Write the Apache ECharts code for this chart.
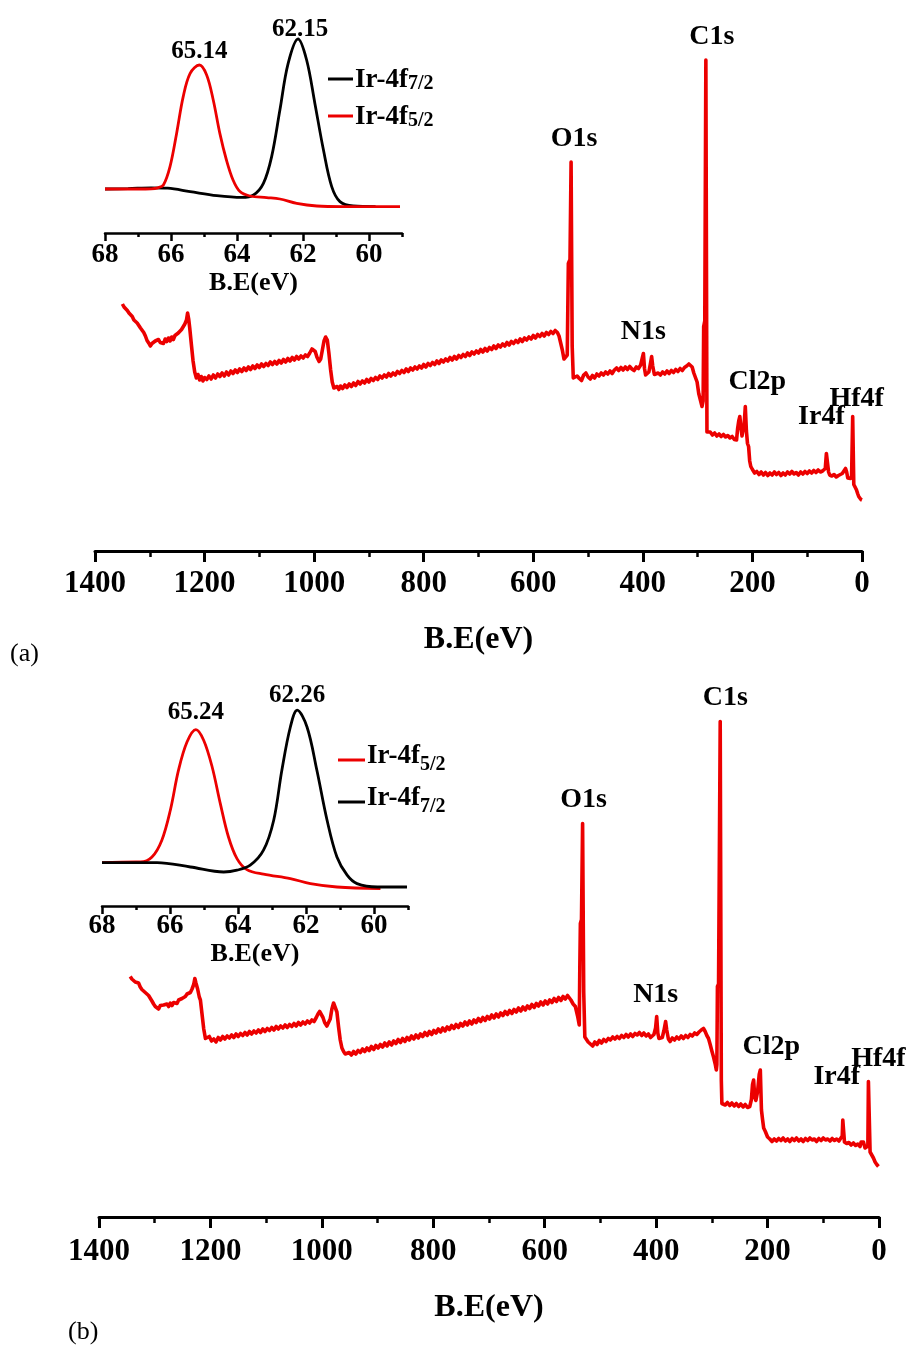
<!DOCTYPE html>
<html>
<head>
<meta charset="utf-8">
<script src="https://cdn.jsdelivr.net/npm/echarts@6/dist/echarts.min.js"></script>
<style>
  html, body { margin: 0; padding: 0; background: #ffffff; }
  #chart { width: 917px; height: 1370px; }
</style>
</head>
<body>
<div id="chart"></div>
<script>
// ---------- Survey spectrum (a): [binding energy eV, intensity a.u.] ----------
const surveyA = [
  [1350,49.4],[1347,48.8],[1344,49.0],[1341,48.1],[1338,47.6],[1335,47.9],[1332,46.9],[1329,46.2],[1326,46.5],[1323,45.6],
  [1320,45.1],[1317,44.6],[1314,44.9],[1311,43.7],[1308,43.0],[1305,42.1],[1302,41.6],[1299,41.0],[1296,41.5],[1293,41.2],
  [1290,42.0],[1287,41.6],[1284,42.3],[1281,41.7],[1278,42.1],[1275,41.5],[1272,42.4],[1269,41.9],[1266,42.6],[1263,42.0],
  [1260,42.8],[1257,42.3],[1254,43.1],[1251,42.7],[1248,43.6],[1245,43.2],[1242,44.3],[1239,43.9],[1236,45.4],[1233,46.2],
  [1231,47.6],[1229,46.4],[1227,44.5],[1224,41.2],[1221,38.0],[1218,35.8],[1215,34.6],[1212,35.3],[1209,34.2],[1206,34.9],
  [1203,34.0],[1200,34.7],[1196,34.3],[1192,35.0],[1188,34.4],[1184,35.2],[1180,34.6],[1176,35.4],[1172,34.9],[1168,35.6],
  [1164,35.0],[1160,35.8],[1156,35.2],[1152,36.0],[1148,35.5],[1144,36.2],[1140,35.7],[1136,36.4],[1132,35.9],[1128,36.6],
  [1124,36.1],[1120,36.8],[1116,36.3],[1112,37.0],[1108,36.5],[1104,37.2],[1100,36.7],[1096,37.4],[1092,36.9],[1088,37.5],
  [1084,37.1],[1080,37.8],[1076,37.3],[1072,37.9],[1068,37.4],[1064,38.1],[1060,37.6],[1056,38.3],[1052,37.8],[1048,38.5],
  [1044,38.0],[1040,38.7],[1036,38.2],[1032,38.9],[1028,38.4],[1024,39.0],[1020,38.6],[1016,39.2],[1012,38.9],[1008,39.6],
  [1004,40.4],[1001,40.6],[998,39.9],[995,38.8],[991,37.9],[988,38.4],[985,40.2],[982,42.0],[979,42.8],[976,42.2],
  [973,39.5],[970,36.3],[967,33.8],[964,32.6],[961,32.2],[958,32.9],[955,32.3],[952,33.0],[948,32.5],[944,33.2],
  [940,32.7],[936,33.4],[932,32.9],[928,33.6],[924,33.1],[920,33.9],[916,33.4],[912,34.0],[908,33.6],[904,34.3],
  [900,33.8],[896,34.5],[892,34.1],[888,34.7],[884,34.3],[880,35.0],[876,34.6],[872,35.2],[868,34.8],[864,35.5],
  [860,35.0],[856,35.6],[852,35.2],[848,35.9],[844,35.5],[840,36.1],[836,35.7],[832,36.4],[828,35.9],[824,36.6],
  [820,36.2],[816,36.8],[812,36.4],[808,37.0],[804,36.6],[800,37.3],[796,36.8],[792,37.5],[788,37.1],[784,37.7],
  [780,37.3],[776,38.0],[772,37.5],[768,38.2],[764,37.8],[760,38.4],[756,38.0],[752,38.7],[748,38.2],[744,38.9],
  [740,38.4],[736,39.1],[732,38.7],[728,39.3],[724,38.9],[720,39.6],[716,39.1],[712,39.8],[708,39.4],[704,40.0],
  [700,39.6],[696,40.3],[692,39.8],[688,40.5],[684,40.0],[680,40.7],[676,40.3],[672,41.0],[668,40.5],[664,41.2],
  [660,40.8],[656,41.4],[652,41.0],[648,41.7],[644,41.2],[640,41.9],[636,41.5],[632,42.1],[628,41.7],[624,42.4],
  [620,41.9],[616,42.6],[612,42.2],[608,42.8],[604,42.4],[600,43.1],[596,42.6],[592,43.3],[588,42.9],[584,43.5],
  [580,43.0],[576,43.7],[572,43.3],[568,43.9],[564,43.5],[560,44.1],[556,43.7],[553,43.0],[550,41.6],[547,40.2],
  [544,38.4],[541,38.0],[538,39.2],[536,57.5],[533,58.3],[531,77.8],[529,41.0],[527,34.6],[524,34.3],[520,35.0],
  [516,34.5],[512,34.1],[508,35.2],[504,35.6],[500,34.8],[496,34.4],[492,35.1],[488,34.6],[484,35.4],[480,35.0],
  [476,35.6],[472,35.2],[468,35.8],[464,35.4],[460,36.0],[456,35.5],[452,36.2],[448,36.6],[444,36.1],[440,36.7],
  [436,36.2],[432,36.8],[428,36.3],[424,36.9],[420,36.4],[416,36.1],[412,36.8],[408,36.5],[404,37.2],[401,38.6],
  [399,39.5],[397,36.5],[395,35.2],[392,35.6],[389,35.8],[386,37.6],[384,38.9],[382,37.0],[379,35.3],[376,34.9],
  [372,35.6],[368,35.2],[364,35.8],[360,35.4],[356,36.0],[352,35.5],[348,36.1],[344,35.7],[340,36.3],[336,35.9],
  [332,36.5],[328,36.1],[324,36.7],[320,37.0],[316,37.4],[313,37.6],[310,36.8],[307,35.6],[304,35.3],[301,33.8],
  [298,31.5],[295,30.2],[292,28.9],[290,30.0],[289,44.9],[287,46.0],[285,98.2],[283,23.8],[281,23.5],[277,23.8],
  [273,23.2],[269,23.6],[265,23.0],[261,23.4],[257,22.9],[253,23.3],[249,22.8],[245,23.1],[241,22.6],[237,22.9],
  [233,22.3],[229,22.2],[227,24.5],[225,26.0],[223,26.9],[221,24.8],[219,23.0],[217,22.9],[215,25.5],[213,28.9],
  [211,24.0],[209,21.5],[207,20.9],[205,18.0],[203,16.9],[200,16.3],[196,15.6],[192,15.9],[188,15.3],[184,15.8],
  [180,15.2],[176,15.7],[172,15.1],[168,15.6],[164,15.2],[160,15.8],[156,15.3],[152,15.7],[148,15.1],[144,15.6],
  [140,15.2],[136,15.8],[132,15.4],[128,15.9],[124,15.4],[120,15.7],[116,15.2],[112,15.8],[108,15.4],[104,15.9],
  [100,15.5],[96,16.0],[92,15.6],[88,16.1],[84,15.7],[80,16.2],[76,15.8],[72,16.0],[69,15.9],[67,16.5],
  [65,19.5],[63,19.2],[61,15.8],[59,15.2],[55,15.0],[51,15.3],[47,14.8],[43,15.1],[40,14.9],[36,15.5],
  [33,16.0],[30,16.5],[28,15.8],[26,14.6],[24,14.2],[21,14.5],[19,15.0],[17,26.9],[16,26.5],[15,13.3],
  [13,12.9],[10,12.2],[8,11.5],[6,10.9],[4,10.6],[2,10.3],[0,10.2]
];

// ---------- Survey spectrum (b) ----------
const surveyB = [
  [1344,48.1],[1341,47.6],[1338,47.8],[1335,47.0],[1332,46.6],[1329,46.8],[1326,46.0],[1323,45.5],[1320,45.7],[1317,44.9],
  [1314,44.6],[1311,44.3],[1308,44.0],[1305,43.2],[1302,42.6],[1299,42.1],[1296,41.8],[1293,41.6],[1290,42.3],[1287,41.9],
  [1284,42.4],[1281,42.0],[1278,42.6],[1275,42.1],[1272,42.8],[1269,42.3],[1266,42.9],[1263,42.5],[1260,42.7],[1257,43.4],
  [1254,43.0],[1251,43.7],[1248,43.3],[1245,44.1],[1242,44.6],[1239,44.2],[1236,44.9],[1233,45.6],[1230,46.5],[1228,47.7],
  [1226,46.8],[1223,45.6],[1220,44.0],[1218,43.4],[1215,40.5],[1212,37.6],[1209,35.7],[1206,35.3],[1202,36.1],[1198,35.2],
  [1194,35.6],[1190,35.0],[1186,35.9],[1182,35.4],[1178,36.1],[1174,35.6],[1170,36.2],[1166,35.8],[1162,36.4],[1158,35.9],
  [1154,36.6],[1150,36.1],[1146,36.7],[1142,36.3],[1138,36.9],[1134,36.4],[1130,37.1],[1126,36.6],[1122,37.2],[1118,36.8],
  [1114,37.4],[1110,36.9],[1106,37.6],[1102,37.1],[1098,37.7],[1094,37.3],[1090,37.9],[1086,37.4],[1082,38.1],[1078,37.6],
  [1074,38.2],[1070,37.8],[1066,38.4],[1062,37.9],[1058,38.5],[1054,38.1],[1050,38.7],[1046,38.2],[1042,38.9],[1038,38.4],
  [1034,39.0],[1030,38.6],[1026,39.2],[1022,38.8],[1018,39.4],[1014,39.1],[1010,39.9],[1007,40.6],[1004,41.1],[1001,40.8],
  [998,39.9],[995,38.9],[991,38.2],[988,38.1],[985,39.6],[982,41.6],[979,42.8],[976,43.1],[973,41.0],[970,38.0],
  [967,35.4],[964,33.8],[961,33.1],[958,32.6],[955,32.4],[951,32.9],[947,32.4],[943,33.1],[939,32.6],[935,33.3],
  [931,32.9],[927,33.6],[923,33.1],[919,33.8],[915,33.3],[911,34.1],[907,33.5],[903,34.3],[899,33.8],[895,34.5],
  [891,34.0],[887,34.8],[883,34.2],[879,35.0],[875,34.4],[871,35.2],[867,34.7],[863,35.5],[859,34.9],[855,35.7],
  [851,35.1],[847,35.9],[843,35.4],[839,36.2],[835,35.6],[831,36.4],[827,35.8],[823,36.6],[819,36.1],[815,36.9],
  [811,36.3],[807,37.1],[803,36.5],[799,37.3],[795,36.8],[791,37.6],[787,37.0],[783,37.8],[779,37.2],[775,38.0],
  [771,37.5],[767,38.3],[763,37.7],[759,38.5],[755,37.9],[751,38.7],[747,38.2],[743,39.0],[739,38.4],[735,39.2],
  [731,38.6],[727,39.4],[723,38.9],[719,39.7],[715,39.1],[711,39.9],[707,39.3],[703,40.1],[699,39.6],[695,40.4],
  [691,39.8],[687,40.6],[683,40.0],[679,40.8],[675,40.3],[671,41.1],[667,40.5],[663,41.3],[659,40.7],[655,41.5],
  [651,41.0],[647,41.8],[643,41.2],[639,42.0],[635,41.4],[631,42.2],[627,41.7],[623,42.5],[619,41.9],[615,42.7],
  [611,42.2],[607,43.0],[603,42.4],[599,43.2],[595,42.6],[591,43.4],[587,42.9],[583,43.7],[579,43.1],[575,43.9],
  [571,43.3],[567,44.1],[563,43.6],[559,44.3],[556,43.9],[553,43.4],[549,42.6],[545,42.1],[541,40.2],[538,38.4],
  [537,50.0],[536,58.7],[534,59.5],[532,78.7],[530,45.0],[528,36.0],[526,35.7],[522,35.0],[518,34.6],[514,34.2],
  [510,35.0],[506,34.5],[502,35.3],[498,34.8],[494,35.5],[490,35.1],[486,35.7],[482,35.4],[478,36.0],[474,35.6],
  [470,36.1],[466,35.7],[462,36.3],[458,35.9],[454,36.5],[450,36.0],[446,36.6],[442,36.1],[438,36.7],[434,36.4],
  [430,36.9],[426,36.3],[422,36.8],[418,36.2],[414,36.6],[410,35.9],[407,35.7],[404,36.5],[401,37.8],[399,40.1],
  [397,36.8],[395,35.7],[392,35.4],[389,35.9],[386,37.3],[383,39.1],[381,37.4],[378,35.6],[375,35.1],[371,35.8],
  [367,35.4],[363,36.0],[359,35.6],[355,36.2],[351,35.7],[347,36.3],[343,35.9],[339,36.5],[335,36.2],[331,36.8],
  [327,36.5],[323,37.0],[319,37.4],[315,37.7],[312,37.1],[309,36.3],[306,35.7],[303,34.5],[300,33.2],[297,32.0],
  [294,30.6],[292,29.4],[291,30.5],[290,46.1],[288,46.6],[285,99.1],[283,27.3],[282,22.7],[280,23.0],[276,22.4],
  [272,22.9],[268,22.3],[264,22.8],[260,22.2],[256,22.7],[252,22.1],[248,22.6],[244,22.0],[240,22.5],[236,21.9],
  [232,22.1],[229,23.5],[227,26.5],[225,27.4],[223,24.0],[221,23.3],[218,25.0],[215,28.5],[213,29.4],[211,21.4],
  [209,19.5],[207,17.8],[204,17.1],[200,16.0],[196,15.6],[192,15.1],[188,15.6],[184,15.2],[180,15.7],[176,15.3],
  [172,15.8],[168,15.2],[164,15.6],[160,15.1],[156,15.7],[152,15.3],[148,15.8],[144,15.2],[140,15.6],[136,15.1],
  [132,15.7],[128,15.3],[124,15.8],[120,15.4],[116,15.6],[112,15.1],[108,15.7],[104,15.3],[100,15.8],[96,15.4],
  [92,15.6],[88,15.2],[84,15.7],[80,15.3],[76,15.6],[72,15.2],[69,15.6],[66,16.2],[65,19.4],[63,19.0],
  [62,15.0],[58,14.7],[54,14.9],[50,14.4],[46,14.8],[42,14.3],[38,14.6],[34,14.1],[32,15.0],[30,15.4],
  [28,15.0],[25,13.8],[22,13.6],[20,14.2],[19,27.1],[17,27.0],[16,13.0],[13,12.7],[10,11.8],[7,11.0],
  [4,10.5],[1,10.1]
];

// ---------- Survey peak assignments ----------
const peakNames = ['O1s', 'N1s', 'C1s', 'Cl2p', 'Ir4f', 'Hf4f'];
const peakEnergiesA = [531, 399, 285, 213, 65, 17];
const peakEnergiesB = [532, 399, 285, 213, 65, 19];

// ---------- Ir 4f high-resolution insets ----------
const ir4f72A = [
  [68,22.0],[67.3,22.2],[66.6,22.6],[66.1,22.4],[65.42,20.7],[64.61,18.7],[63.86,17.8],[63.5,19.0],[63.2,24.8],[62.95,38.2],
  [62.7,61.5],[62.45,84.8],[62.15,97.0],[61.89,86.5],[61.64,64.8],[61.38,41.5],[61.13,23.2],[60.88,15.7],[60.48,13.5],[59.8,13.2]
];
const ir4f52A = [
  [68,22.0],[67.0,22.0],[66.6,22.1],[66.4,22.6],[66.23,24.0],[66.03,33.2],[65.83,49.8],[65.63,68.2],[65.42,79.8],[65.14,84.0],
  [64.92,79.0],[64.72,66.5],[64.52,49.8],[64.32,36.5],[64.12,26.5],[63.91,20.7],[63.61,18.5],[63.1,17.7],[62.7,17.0],[62.19,14.8],
  [61.58,13.5],[60.8,13.2],[60.0,13.2],[59.06,13.2]
];
const ir4f52B = [
  [68,21.7],[67.0,22.0],[66.87,22.0],[66.53,24.5],[66.24,32.9],[65.99,47.9],[65.75,67.9],[65.5,82.0],[65.24,88.2],[65.01,82.9],
  [64.76,69.5],[64.52,51.2],[64.28,34.5],[64.03,23.7],[63.74,18.2],[63.25,15.9],[62.46,13.7],[61.87,11.2],[61.09,9.5],[59.81,8.7]
];
const ir4f72B = [
  [68,21.7],[66.38,21.7],[65.4,19.5],[64.42,17.0],[64.03,17.9],[63.64,20.4],[63.25,27.9],[62.95,42.9],[62.71,67.9],[62.46,89.5],
  [62.26,97.9],[61.97,89.5],[61.68,67.9],[61.38,42.9],[61.09,24.5],[60.79,15.4],[60.5,11.2],[59.9,9.5],[59.03,9.5]
];

// ---------- Axis ticks ----------
const surveyTickStep = 200;
const insetMajorTicks = [60, 62, 64, 66, 68];
const insetMinorTicks = [59, 61, 63, 65, 67];

// ---------- Styles ----------
const SERIF = '"Liberation Serif", "Times New Roman", serif';
const RED = '#ec0000';
const BLACK = '#000000';
// label offsets from each peak tip, in pixels
const peakLabelOffsetA = { O1s: [3, -23], N1s: [0, -22], C1s: [6, -23], Cl2p: [12, -25], Ir4f: [-5, -37], Hf4f: [4, -18] };
const peakLabelOffsetB = { O1s: [1, -24], N1s: [-1, -22], C1s: [5, -24], Cl2p: [11, -23], Ir4f: [-6, -43], Hf4f: [10, -23] };

function peakTip(data, e) {
  let best = null;
  for (const p of data) {
    if (Math.abs(p[0] - e) <= 1.5 && (!best || p[1] > best[1])) best = p;
  }
  return best;
}
function maxPoint(data) {
  return data.reduce((a, b) => (b[1] > a[1] ? b : a));
}

function surveyXAxis(gridIndex, labelMargin, nameGap) {
  return {
    type: 'value', gridIndex, min: 0, max: 1400, interval: surveyTickStep, inverse: true, position: 'bottom',
    axisLine: { show: true, onZero: false, lineStyle: { color: BLACK, width: 3 } },
    axisTick: { show: true, length: 11, lineStyle: { color: BLACK, width: 3 } },
    minorTick: { show: true, splitNumber: 2, length: 6, lineStyle: { color: BLACK, width: 2.5 } },
    splitLine: { show: false }, minorSplitLine: { show: false },
    axisLabel: { color: BLACK, fontFamily: SERIF, fontWeight: 'bold', fontSize: 31, margin: labelMargin, formatter: v => String(v) },
    name: 'B.E(eV)', nameLocation: 'middle', nameGap,
    nameTextStyle: { color: BLACK, fontFamily: SERIF, fontWeight: 'bold', fontSize: 32 }
  };
}
function insetXAxis(gridIndex, labelMargin, nameGap) {
  return {
    type: 'value', gridIndex, min: 59, max: 68, inverse: true, position: 'bottom',
    axisLine: { show: true, onZero: false, lineStyle: { color: BLACK, width: 2.5 } },
    axisTick: { show: true, length: 8, customValues: insetMajorTicks, lineStyle: { color: BLACK, width: 2.5 } },
    splitLine: { show: false },
    axisLabel: { customValues: insetMajorTicks, color: BLACK, fontFamily: SERIF, fontWeight: 'bold', fontSize: 27, margin: labelMargin, formatter: v => String(v) },
    name: 'B.E(eV)', nameLocation: 'middle', nameGap,
    nameTextStyle: { color: BLACK, fontFamily: SERIF, fontWeight: 'bold', fontSize: 26 }
  };
}
function insetMinorAxis(gridIndex) {
  return {
    type: 'value', gridIndex, min: 59, max: 68, inverse: true, position: 'bottom',
    axisLine: { show: false },
    axisTick: { show: true, length: 4, customValues: insetMinorTicks, lineStyle: { color: BLACK, width: 2.5 } },
    axisLabel: { show: false }, splitLine: { show: false }
  };
}
function hiddenY(gridIndex) {
  return { type: 'value', gridIndex, min: 0, max: 100, show: false, splitLine: { show: false } };
}

function surveySeries(data, axisIdx) {
  return {
    type: 'line', xAxisIndex: axisIdx, yAxisIndex: axisIdx, data, symbol: 'none', z: 2,
    lineStyle: { color: RED, width: 3.6, join: 'round' }, itemStyle: { color: RED }, silent: true
  };
}
const labelText = { color: BLACK, fontFamily: SERIF, fontWeight: 'bold', opacity: 1 };
function peakLabelSeries(data, energies, offsets, axisIdx) {
  return {
    type: 'scatter', xAxisIndex: axisIdx, yAxisIndex: axisIdx, symbolSize: 0, z: 5, silent: true,
    itemStyle: { opacity: 1 },
    data: peakNames.map((n, i) => {
      const tip = peakTip(data, energies[i]);
      return {
        name: n, value: tip,
        label: Object.assign({ show: true, position: 'inside', offset: offsets[n], formatter: '{b}', fontSize: 28 }, labelText)
      };
    })
  };
}
function insetLine(name, data, color, axisIdx, yIdx) {
  return {
    name, type: 'line', xAxisIndex: axisIdx, yAxisIndex: yIdx, data, symbol: 'none', smooth: 0.35,
    lineStyle: { color, width: 2.8 }, itemStyle: { color }, z: 3, silent: true
  };
}
function insetValueLabels(curves, offsets, axisIdx, yIdx) {
  return {
    type: 'scatter', xAxisIndex: axisIdx, yAxisIndex: yIdx, symbolSize: 0, z: 5, silent: true,
    itemStyle: { opacity: 1 },
    data: curves.map((c, i) => {
      const top = maxPoint(c);
      return {
        value: top,
        label: Object.assign({ show: true, position: 'inside', offset: offsets[i], formatter: top[0].toFixed(2), fontSize: 25 }, labelText)
      };
    })
  };
}
function legendText(name) {
  const m = name.match(/^(Ir-4f)(.*)$/);
  return '{m|' + m[1] + '}{s|' + m[2] + '}';
}
function insetLegend(order, left, top, gap, itemWidth, mainPadBottom) {
  return {
    data: order, orient: 'vertical', left, top, itemGap: gap, itemWidth, itemHeight: 3, icon: 'rect', padding: 0,
    selectedMode: false, formatter: legendText,
    textStyle: {
      color: BLACK, padding: [0, 0, 0, -3],
      rich: {
        m: { fontFamily: SERIF, fontWeight: 'bold', fontSize: 27, color: BLACK, lineHeight: 30, verticalAlign: 'bottom', padding: [0, 0, mainPadBottom, 0] },
        s: { fontFamily: SERIF, fontWeight: 'bold', fontSize: 20, color: BLACK, lineHeight: 20, verticalAlign: 'bottom' }
      }
    }
  };
}

const chart = echarts.init(document.getElementById('chart'), null, { renderer: 'canvas' });
chart.setOption({
  animation: false,
  backgroundColor: '#ffffff',
  grid: [
    { left: 95, top: 51, width: 767, height: 500 },
    { left: 105, top: 33, width: 297, height: 200 },
    { left: 99, top: 717, width: 780, height: 500 },
    { left: 102, top: 706, width: 306, height: 200 }
  ],
  xAxis: [
    surveyXAxis(0, 17, 73),
    insetXAxis(1, 9, 31),
    surveyXAxis(2, 19, 75),
    insetXAxis(3, 7, 35),
    insetMinorAxis(1),
    insetMinorAxis(3)
  ],
  yAxis: [hiddenY(0), hiddenY(1), hiddenY(2), hiddenY(3), hiddenY(1), hiddenY(3)],
  legend: [
    insetLegend(['Ir-4f7/2', 'Ir-4f5/2'], 328, 67, 10, 25, 0),
    insetLegend(['Ir-4f5/2', 'Ir-4f7/2'], 338, 743, 10, 27, 5)
  ],
  graphic: [
    { type: 'text', left: 10, top: 641, style: { text: '(a)', font: '26px ' + SERIF, fill: BLACK } },
    { type: 'text', left: 68, top: 1319, style: { text: '(b)', font: '26px ' + SERIF, fill: BLACK } }
  ],
  series: [
    surveySeries(surveyA, 0),
    peakLabelSeries(surveyA, peakEnergiesA, peakLabelOffsetA, 0),
    insetLine('Ir-4f7/2', ir4f72A, BLACK, 1, 1),
    insetLine('Ir-4f5/2', ir4f52A, RED, 1, 1),
    insetValueLabels([ir4f52A, ir4f72A], [[0, -13], [2, -9]], 1, 1),
    surveySeries(surveyB, 2),
    peakLabelSeries(surveyB, peakEnergiesB, peakLabelOffsetB, 2),
    insetLine('Ir-4f5/2', ir4f52B, RED, 3, 3),
    insetLine('Ir-4f7/2', ir4f72B, BLACK, 3, 3),
    insetValueLabels([ir4f52B, ir4f72B], [[0, -17], [0, -15]], 3, 3)
  ]
});
</script>
</body>
</html>
